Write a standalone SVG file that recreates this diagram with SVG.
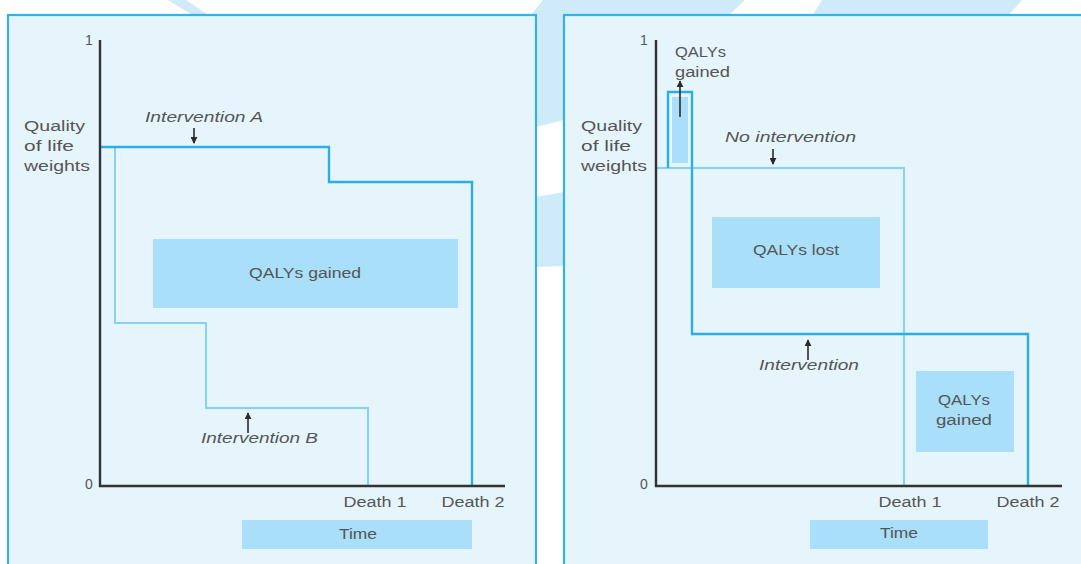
<svg xmlns="http://www.w3.org/2000/svg" width="1081" height="564" viewBox="0 0 1081 564">
<style>
.panel{fill:#e6f5fc;stroke:#35b2e6;stroke-width:2.2}
.band{fill:#cfeaf9}
.axis{fill:none;stroke:#333333;stroke-width:2.4}
.strong{fill:none;stroke:#2aaee3;stroke-width:2.4}
.light{fill:none;stroke:#86d2f2;stroke-width:2}
.box{fill:#a9dff8}
.ptr{fill:none;stroke:#2b2b2b;stroke-width:1.6}
text{font-family:"Liberation Sans",Arial,sans-serif;font-size:14px;fill:#555555}
.it{font-style:italic}
.c{text-anchor:middle}
</style>
<defs>
<marker id="ah" viewBox="0 0 8 8" refX="7" refY="4" markerWidth="7" markerHeight="7" markerUnits="userSpaceOnUse" orient="auto">
<path d="M0,0 L8,4 L0,8 z" fill="#2b2b2b"/>
</marker>
</defs>
<rect width="1081" height="564" fill="#ffffff"/>
<g id="background">
<polygon class="band" points="168,0 186,0 210,16 194,16"/>
<polygon class="band" points="543,0 745,0 728,16 530,16"/>
<polygon class="band" points="822,0 1022,0 1008,16 812,16"/>
<polygon class="band" points="536,15 564,15 564,120 536,127"/>
<polygon class="band" points="536,197 564,192 564,266 536,267"/>
</g>
<g id="panel-left">
<rect class="panel" x="8" y="15" width="528" height="570"/>
<rect class="box" x="153" y="239" width="305" height="69"/>
<text class="c" x="305" y="278" textLength="112" lengthAdjust="spacingAndGlyphs">QALYs gained</text>
<rect class="box" x="242" y="520" width="230" height="29"/>
<text class="c" x="358" y="539" textLength="38" lengthAdjust="spacingAndGlyphs">Time</text>
<text x="24" y="131" textLength="61" lengthAdjust="spacingAndGlyphs">Quality</text>
<text x="24" y="151" textLength="50" lengthAdjust="spacingAndGlyphs">of life</text>
<text x="24" y="171" textLength="66" lengthAdjust="spacingAndGlyphs">weights</text>
<text x="89" y="45" class="c">1</text>
<text x="89" y="489" class="c">0</text>
<text class="c" x="375" y="507" textLength="63" lengthAdjust="spacingAndGlyphs">Death 1</text>
<text class="c" x="473" y="507" textLength="63" lengthAdjust="spacingAndGlyphs">Death 2</text>
<text class="it" x="145" y="122" textLength="118" lengthAdjust="spacingAndGlyphs">Intervention A</text>
<text class="it" x="201" y="443" textLength="117" lengthAdjust="spacingAndGlyphs">Intervention B</text>
</g>
<g id="panel-right">
<rect class="panel" x="564" y="15" width="530" height="570"/>
<rect class="box" x="712" y="217" width="168" height="71"/>
<text class="c" x="796" y="255" textLength="86" lengthAdjust="spacingAndGlyphs">QALYs lost</text>
<rect class="box" x="916" y="371" width="98" height="81"/>
<text class="c" x="964" y="405" textLength="52" lengthAdjust="spacingAndGlyphs">QALYs</text>
<text class="c" x="964" y="425" textLength="56" lengthAdjust="spacingAndGlyphs">gained</text>
<rect class="box" x="810" y="520" width="178" height="29"/>
<text class="c" x="899" y="538" textLength="38" lengthAdjust="spacingAndGlyphs">Time</text>
<rect class="box" x="672" y="97" width="16" height="66"/>
<text x="581" y="131" textLength="61" lengthAdjust="spacingAndGlyphs">Quality</text>
<text x="581" y="151" textLength="50" lengthAdjust="spacingAndGlyphs">of life</text>
<text x="581" y="171" textLength="66" lengthAdjust="spacingAndGlyphs">weights</text>
<text x="644" y="45" class="c">1</text>
<text x="644" y="489" class="c">0</text>
<text class="c" x="910" y="507" textLength="63" lengthAdjust="spacingAndGlyphs">Death 1</text>
<text class="c" x="1028" y="507" textLength="63" lengthAdjust="spacingAndGlyphs">Death 2</text>
<text x="675" y="57" textLength="51" lengthAdjust="spacingAndGlyphs">QALYs</text>
<text x="675" y="77" textLength="55" lengthAdjust="spacingAndGlyphs">gained</text>
<text class="it" x="725" y="142" textLength="131" lengthAdjust="spacingAndGlyphs">No intervention</text>
<text class="it" x="759" y="370" textLength="100" lengthAdjust="spacingAndGlyphs">Intervention</text>
</g>
<g id="connectors">
<path class="light" d="M115,147 V323 H206 V408 H368 V486"/>
<path class="strong" d="M100,147 H329 V182 H472 V486"/>
<path class="axis" d="M100,40 V486 H505"/>
<path class="light" d="M656,168 H904 V486"/>
<path class="strong" d="M668,168 V92 H692 V334 H1028 V486"/>
<path class="axis" d="M656,40 V486 H1062"/>
<line class="ptr" x1="194" y1="128" x2="194" y2="143" marker-end="url(#ah)"/>
<line class="ptr" x1="248" y1="433" x2="248" y2="413" marker-end="url(#ah)"/>
<line class="ptr" x1="773" y1="149" x2="773" y2="164" marker-end="url(#ah)"/>
<line class="ptr" x1="808" y1="360" x2="808" y2="340" marker-end="url(#ah)"/>
<line class="ptr" x1="680" y1="117" x2="680" y2="81" marker-end="url(#ah)"/>
</g>
</svg>
